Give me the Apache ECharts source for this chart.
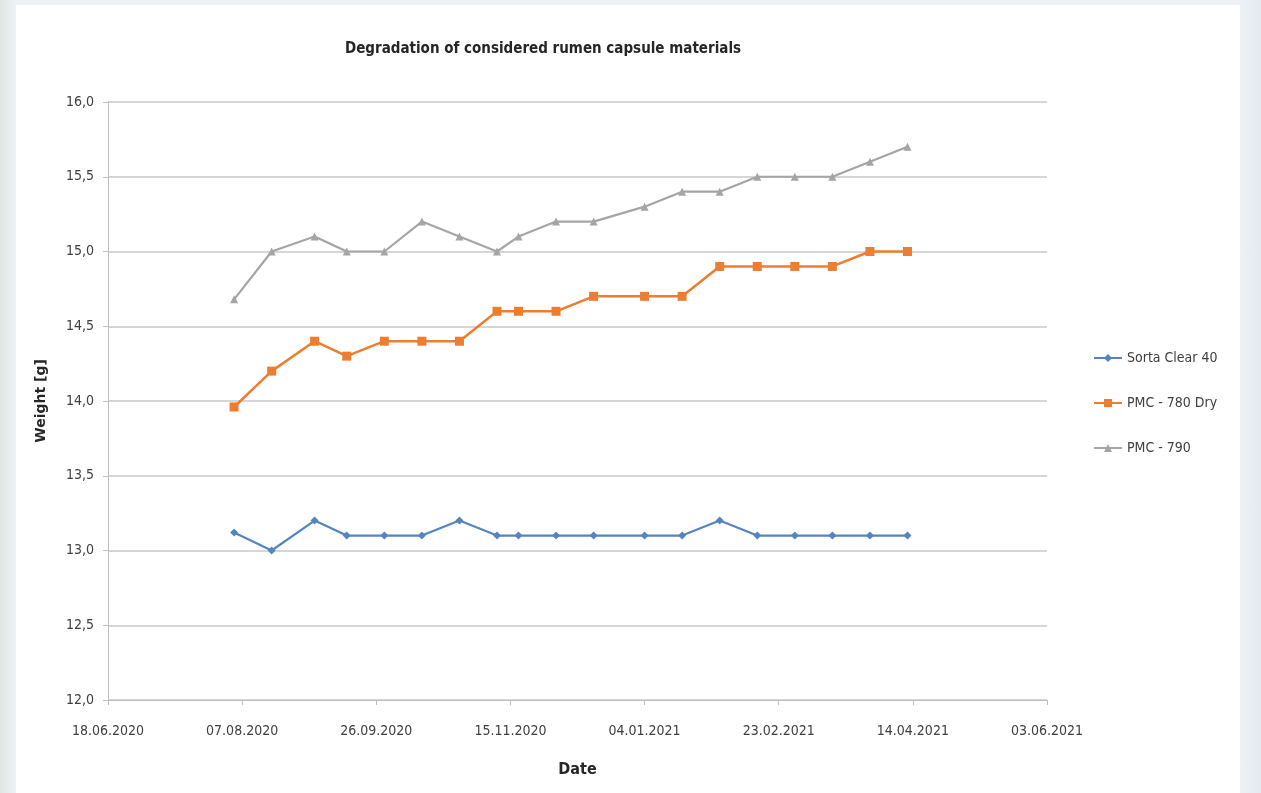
<!DOCTYPE html>
<html>
<head>
<meta charset="utf-8">
<script src="https://cdn.jsdelivr.net/npm/echarts@6/dist/echarts.min.js"></script>
<style>
  html, body { margin: 0; padding: 0; width: 1261px; height: 793px; overflow: hidden;
    background: linear-gradient(90deg, #dfe7e4 0px, #eef2f5 16px, #eef2f6 1240px, #e3e9ef 1261px); }
  #panel { position: absolute; left: 16px; top: 5px; width: 1224px; height: 788px; background: #ffffff; }
  #chart { position: absolute; left: 0; top: 0; width: 1261px; height: 793px; }
</style>
</head>
<body>
<div id="panel"></div>
<div id="chart"></div>
<script>
// Measurement dates
const dates = [
  '2020-08-04', '2020-08-18', '2020-09-03', '2020-09-15', '2020-09-29',
  '2020-10-13', '2020-10-27', '2020-11-10', '2020-11-18', '2020-12-02',
  '2020-12-16', '2021-01-04', '2021-01-18', '2021-02-01', '2021-02-15',
  '2021-03-01', '2021-03-15', '2021-03-29', '2021-04-12'
];

// Capsule weights in grams
const sortaClear40 = [13.12, 13.0, 13.2, 13.1, 13.1, 13.1, 13.2, 13.1, 13.1, 13.1,
                      13.1, 13.1, 13.1, 13.2, 13.1, 13.1, 13.1, 13.1, 13.1];
const pmc780Dry    = [13.96, 14.2, 14.4, 14.3, 14.4, 14.4, 14.4, 14.6, 14.6, 14.6,
                      14.7, 14.7, 14.7, 14.9, 14.9, 14.9, 14.9, 15.0, 15.0];
const pmc790       = [14.68, 15.0, 15.1, 15.0, 15.0, 15.2, 15.1, 15.0, 15.1, 15.2,
                      15.2, 15.3, 15.4, 15.4, 15.5, 15.5, 15.5, 15.6, 15.7];

const seriesNames = ['Sorta Clear 40', 'PMC - 780 Dry', 'PMC - 790'];

// Date axis range as spreadsheet serial days (18.06.2020 .. 03.06.2021), 50-day steps
const xMinDate = '2020-06-18';
const xMaxDate = '2021-06-03';
const xStepDays = 50;
// Weight axis range
const yMin = 12, yMax = 16, yStep = 0.5;

const DAY = 86400000;
const EPOCH = Date.UTC(1899, 11, 30);
function toSerial(s) {
  const p = s.split('-').map(Number);
  return Math.round((Date.UTC(p[0], p[1] - 1, p[2]) - EPOCH) / DAY);
}
function serialLabel(v) {
  const d = new Date(EPOCH + v * DAY);
  const dd = String(d.getUTCDate()).padStart(2, '0');
  const mm = String(d.getUTCMonth() + 1).padStart(2, '0');
  return dd + '.' + mm + '.' + d.getUTCFullYear();
}
const xs = dates.map(toSerial);
const pairs = arr => xs.map((x, i) => [x, arr[i]]);

const FONT = "'DejaVu Sans Condensed', 'Liberation Sans Narrow', sans-serif";

const chart = echarts.init(document.getElementById('chart'), null, { renderer: 'canvas' });
chart.setOption({
  backgroundColor: 'transparent',
  animation: false,
  textStyle: { fontFamily: FONT },
  title: {
    text: 'Degradation of considered rumen capsule materials',
    left: 340, top: 37,
    textStyle: { fontFamily: FONT, fontSize: 15, fontWeight: 'bold', color: '#262626' }
  },
  legend: {
    orient: 'vertical',
    left: 1088, top: 346,
    itemWidth: 28, itemHeight: 10, itemGap: 31,
    textStyle: { fontFamily: FONT, fontSize: 14, color: '#404040' },
    data: seriesNames
  },
  grid: { left: 108, right: 1261 - 1047, top: 102, bottom: 793 - 700, containLabel: false },
  xAxis: {
    type: 'value',
    min: toSerial(xMinDate), max: toSerial(xMaxDate), interval: xStepDays,
    name: 'Date', nameLocation: 'middle', nameGap: 62,
    nameTextStyle: { fontFamily: FONT, fontSize: 16, fontWeight: 'bold', color: '#262626' },
    axisLine: { show: true, lineStyle: { color: '#bfbfbf', width: 1 } },
    axisTick: { show: true, length: 5, lineStyle: { color: '#bfbfbf' } },
    axisLabel: { formatter: serialLabel, margin: 24, fontSize: 14, color: '#404040', fontFamily: FONT },
    splitLine: { show: false }
  },
  yAxis: {
    type: 'value',
    min: yMin, max: yMax, interval: yStep,
    name: 'Weight [g]', nameLocation: 'middle', nameGap: 60, nameRotate: 90,
    nameTextStyle: { fontFamily: "'DejaVu Sans', sans-serif", fontSize: 14, fontWeight: 'bold', color: '#262626' },
    axisLine: { show: true, lineStyle: { color: '#bfbfbf', width: 1 } },
    axisTick: { show: true, length: 5, inside: false, lineStyle: { color: '#bfbfbf' } },
    axisLabel: { formatter: v => v.toFixed(1).replace('.', ','), margin: 14, fontSize: 14, color: '#404040', fontFamily: FONT },
    splitLine: { show: true, lineStyle: { color: '#c8c8c8', width: 1.5 } }
  },
  series: [
    {
      name: seriesNames[0], type: 'line', data: pairs(sortaClear40),
      symbol: 'diamond', symbolSize: 8,
      lineStyle: { color: '#5585c0', width: 2.2 },
      itemStyle: { color: '#5585c0' }
    },
    {
      name: seriesNames[1], type: 'line', data: pairs(pmc780Dry),
      symbol: 'rect', symbolSize: 9,
      lineStyle: { color: '#ed7d31', width: 2.5 },
      itemStyle: { color: '#ed7d31' }
    },
    {
      name: seriesNames[2], type: 'line', data: pairs(pmc790),
      symbol: 'triangle', symbolSize: 8,
      lineStyle: { color: '#a5a5a5', width: 2.2 },
      itemStyle: { color: '#a5a5a5' }
    }
  ]
});
</script>
</body>
</html>
